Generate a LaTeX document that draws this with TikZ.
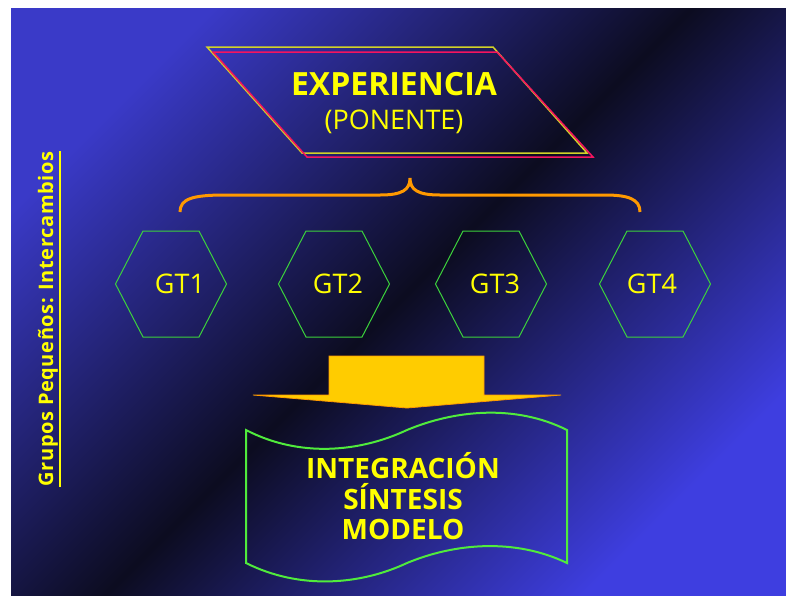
\documentclass[tikz,border=0pt]{standalone}
\usepackage{fontspec}
\setmainfont{Open Sans}
\usetikzlibrary{positioning}

\definecolor{bgblue}{RGB}{58,58,200}
\definecolor{bgblue2}{RGB}{62,62,224}
\definecolor{bgdark}{RGB}{12,12,32}
\definecolor{txtyellow}{RGB}{255,255,0}
\definecolor{lineyellow}{RGB}{210,210,40}
\definecolor{linered}{RGB}{245,20,95}
\definecolor{hexgreen}{RGB}{60,210,60}
\definecolor{wavegreen}{RGB}{80,235,60}
\definecolor{braceorange}{RGB}{255,153,0}
\definecolor{arrowgold}{RGB}{255,204,0}

\begin{document}
\begin{tikzpicture}[x=1pt, y=-1pt]
  \tikzset{
    bigtext/.style={text=txtyellow, inner sep=0pt, anchor=base},
    hexline/.style={draw=hexgreen, line width=1pt},
    bracebar/.style={draw=braceorange, line width=3pt},
    arrowbody/.style={fill=arrowgold, draw=braceorange, line width=0.8pt},
    waveline/.style={draw=wavegreen, line width=2pt}
  }

  % background
  \fill[white] (0,0) rectangle (786,595);
  \useasboundingbox (0,0) rectangle (786,595);
  \shade[top color=bgblue, bottom color=bgblue2, middle color=bgdark, shading angle=45] (11,8) rectangle (786,595);

  % parallelogram
  \draw[lineyellow, line width=1.5pt] (207,47) -- (493,47) -- (587,153) -- (302,153) -- cycle;
  \draw[linered, line width=1.5pt] (213,52) -- (497,52) -- (593,157) -- (307,157) -- cycle;
  \node[bigtext, font=\bfseries\fontsize{32}{36}\selectfont] (exper) at (394,95) {EXPERIENCIA};
  \node[bigtext, font=\fontsize{27}{30}\selectfont] (ponente) at (394,129) {(PONENTE)};

  % brace
  \draw[bracebar] (180,212) .. controls (180,199) and (192,195) .. (225,195) -- (380,195)
    .. controls (402,195) and (410,190) .. (410,178)
    .. controls (410,190) and (418,195) .. (440,195) -- (605,195)
    .. controls (628,195) and (640,199) .. (640,212);

  % groups
  \foreach \x/\tx/\n in {171/180/1, 334/338/2, 491/495/3, 655/652/4} {
    \draw[hexline] (\x,284) ++(-55.5,0) -- ++(27.5,-53) -- ++(56,0) -- ++(27.5,53)
      -- ++(-27.5,53) -- ++(-56,0) -- cycle;
    \node[bigtext, font=\fontsize{27}{30}\selectfont] (gt\n) at (\tx,293) {GT\n};
  }

  % arrow
  \draw[arrowbody] (329,356) -- (484,356) -- (484,395) -- (561,395) -- (407,408)
    -- (253,395) -- (329,395) -- cycle;

  % wave
  \draw[waveline] (246,430) .. controls (300,458) and (360,452) .. (407,430)
    .. controls (455,410) and (515,404) .. (567,430) -- (567,563)
    .. controls (515,538) and (455,543) .. (407,563)
    .. controls (360,585) and (300,590) .. (246,563) -- cycle;
  \node[bigtext, font=\bfseries\fontsize{28}{31}\selectfont] (integ) at (403,478) {INTEGRACIÓN};
  \node[bigtext, font=\bfseries\fontsize{28}{31}\selectfont] (sintesis) at (403,509) {SÍNTESIS};
  \node[bigtext, font=\bfseries\fontsize{28}{31}\selectfont] (modelo) at (403,539) {MODELO};

  % side title
  \node[bigtext, rotate=90, font=\bfseries\fontsize{20}{22}\selectfont\addfontfeature{LetterSpace=3}] (grupos) at (53,319) {Grupos Pequeños: Intercambios};
  \draw[txtyellow, line width=2pt] ([xshift=2pt]grupos.south west) -- ([xshift=2pt]grupos.south east);
\end{tikzpicture}
\end{document}
